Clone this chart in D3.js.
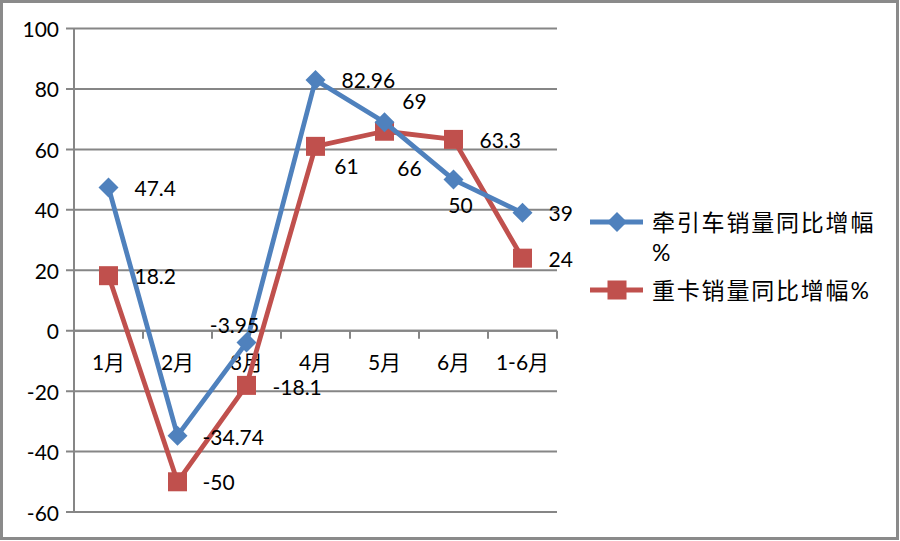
<!DOCTYPE html>
<html><head><meta charset="utf-8">
<script src="https://cdn.jsdelivr.net/npm/d3@7"></script>
<style>
html,body{margin:0;padding:0;background:#fff;}
svg{display:block;}
text{font-family:Lato,"Noto Sans CJK SC",sans-serif;fill:#000;}
</style></head>
<body>
<svg id="c" width="900" height="541"></svg>
<script>
const categories = ["1月","2月","3月","4月","5月","6月","1-6月"];
const tractorGrowth = [47.4, -34.74, -3.95, 82.96, 69, 50, 39];
const heavyTruckGrowth = [18.2, -50, -18.1, 61, 66, 63.3, 24];
const yTicks = [-60,-40,-20,0,20,40,60,80,100];
const seriesNames = ["牵引车销量同比增幅%", "重卡销量同比增幅%"];

// label offsets [dx, dy, anchor] per point (layout only)
const tractorLabelPos = [[26,0,"start"],[25,1,"start"],[-12,-18,"middle"],[26,0,"start"],[30,-22,"middle"],[7,25,"middle"],[26,0,"start"]];
const truckLabelPos = [[26,0,"start"],[25,0,"start"],[26,1,"start"],[31,19,"middle"],[25,36,"middle"],[26,0,"start"],[26,0,"start"]];

const svg = d3.select("#c");
const blue = "#4F81BD", red = "#C0504D", grid = "#868686";

// outer border
svg.append("rect").attr("x",1.5).attr("y",1.5).attr("width",896).attr("height",537)
  .attr("fill","#fff").attr("stroke","#8a8a8a").attr("stroke-width",3);

const pLeft = 74, pRight = 557, pTop = 28.5, pBottom = 512;
const x = d3.scaleBand().domain(categories).range([pLeft, pRight]);
const y = d3.scaleLinear().domain([-60,100]).range([pBottom, pTop]);

// gridlines
svg.append("g").selectAll("line").data(yTicks).join("line")
  .attr("x1", pLeft-8).attr("x2", pRight).attr("y1", d=>y(d)).attr("y2", d=>y(d))
  .attr("stroke", grid).attr("stroke-width", 2);

// y axis line
svg.append("line").attr("x1",pLeft).attr("x2",pLeft).attr("y1",pTop).attr("y2",pBottom)
  .attr("stroke",grid).attr("stroke-width",2);

// y tick labels
svg.append("g").selectAll("text").data(yTicks).join("text")
  .attr("x", 59).attr("y", d=>y(d)).attr("text-anchor","end")
  .attr("dominant-baseline","central").attr("font-size",21).text(d=>d);

// x axis at 0
const y0 = y(0);
svg.append("line").attr("x1",pLeft).attr("x2",pRight).attr("y1",y0).attr("y2",y0)
  .attr("stroke",grid).attr("stroke-width",2);
const tickXs = categories.map(c=>x(c)).concat([pRight]);
svg.append("g").selectAll("line").data(tickXs).join("line")
  .attr("x1",d=>d).attr("x2",d=>d).attr("y1",y0).attr("y2",y0+8)
  .attr("stroke",grid).attr("stroke-width",2);

// category labels
svg.append("g").selectAll("text").data(categories).join("text")
  .attr("x", d=>x(d)+x.bandwidth()/2).attr("y", y0+31)
  .attr("text-anchor","middle").attr("dominant-baseline","central")
  .attr("font-size",21).text(d=>d);

const cx = (i)=>x(categories[i])+x.bandwidth()/2;
const line = d3.line().x((d,i)=>cx(i)).y(d=>y(d));

function drawSeries(vals, color, marker){
  svg.append("path").datum(vals).attr("d", line).attr("fill","none")
    .attr("stroke", color).attr("stroke-width", 4.8).attr("stroke-linejoin","round");
  const g = svg.append("g");
  vals.forEach((v,i)=>{
    const px = cx(i), py = y(v);
    if (marker==="diamond"){
      g.append("path").attr("d",`M${px},${py-10}L${px+10},${py}L${px},${py+10}L${px-10},${py}Z`).attr("fill",color);
    } else {
      g.append("rect").attr("x",px-9.5).attr("y",py-9.5).attr("width",19).attr("height",19).attr("fill",color);
    }
  });
}
drawSeries(heavyTruckGrowth, red, "square");
drawSeries(tractorGrowth, blue, "diamond");

function drawLabels(vals, labelPos){
  svg.append("g").selectAll("text").data(vals).join("text")
    .attr("x",(d,i)=>cx(i)+labelPos[i][0]).attr("y",(d,i)=>y(d)+labelPos[i][1])
    .attr("text-anchor",(d,i)=>labelPos[i][2]).attr("dominant-baseline","central")
    .attr("font-size",21).text(d=>d);
}
drawLabels(tractorGrowth, tractorLabelPos);
drawLabels(heavyTruckGrowth, truckLabelPos);

// legend
const lg = svg.append("g");
const ly1 = 222, ly2 = 290;
lg.append("line").attr("x1",590).attr("x2",643).attr("y1",ly1).attr("y2",ly1).attr("stroke",blue).attr("stroke-width",4.8);
lg.append("path").attr("d",`M617,${ly1-10}L627,${ly1}L617,${ly1+10}L607,${ly1}Z`).attr("fill",blue);
lg.append("line").attr("x1",590).attr("x2",643).attr("y1",ly2).attr("y2",ly2).attr("stroke",red).attr("stroke-width",4.8);
lg.append("rect").attr("x",607.5).attr("y",ly2-9.5).attr("width",19).attr("height",19).attr("fill",red);

const t1 = lg.append("text").attr("x",652).attr("y",ly1).attr("dominant-baseline","central")
  .attr("font-size",23).attr("font-family","'Noto Sans CJK SC',sans-serif");
t1.append("tspan").attr("x",652).attr("letter-spacing",1.8).text(seriesNames[0].slice(0,-1));
t1.append("tspan").attr("x",652).attr("dy",30).text(seriesNames[0].slice(-1));
lg.append("text").attr("x",652).attr("y",ly2).attr("dominant-baseline","central")
  .attr("font-size",23).attr("letter-spacing",1.8).attr("font-family","'Noto Sans CJK SC',sans-serif")
  .text(seriesNames[1]);
</script>
</body></html>
